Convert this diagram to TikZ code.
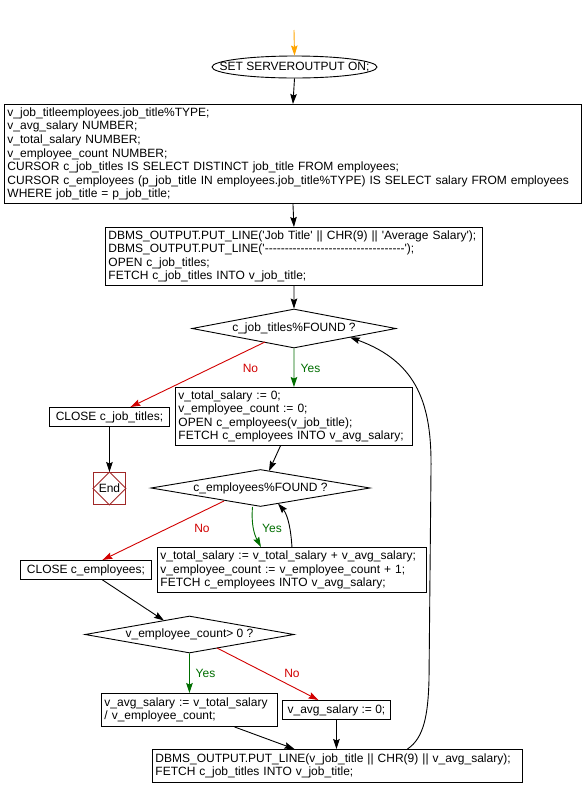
\documentclass[tikz,border=0pt]{standalone}
\usepackage{fontspec}
\setmainfont{Liberation Sans}[Ligatures=TeXOff]
\usetikzlibrary{arrows.meta,shapes.geometric,calc}
\definecolor{ygreen}{RGB}{0,110,0}
\definecolor{nred}{RGB}{210,0,0}
\definecolor{endred}{RGB}{160,40,40}
\definecolor{startor}{RGB}{255,165,0}
\begin{document}
\begin{tikzpicture}[x=1pt,y=-1pt,
  every node/.style={font=\fontsize{12pt}{13.6pt}\selectfont},
  line width=0.9pt,
  >={Stealth[length=10pt,width=6.5pt,inset=1.5pt]},
  conn/.style={->,draw=black},
  yesline/.style={->,draw=ygreen},
  noline/.style={->,draw=nred},
  cb/.style n args={2}{draw,anchor=north west,inner xsep=3pt,inner ysep=0pt,
    text width=#1,minimum height=#2,align=left},
  sb/.style n args={2}{draw,anchor=north west,inner sep=0pt,
    minimum width=#1,minimum height=#2},
  dia/.style n args={2}{draw,diamond,aspect=1,inner sep=0pt,
    minimum width=#1,minimum height=#2},
  yeslab/.style={text=ygreen,inner sep=0pt},
  nolab/.style={text=nred,inner sep=0pt}
]
\fill[white] (0,0) rectangle (585,796);
\useasboundingbox (0,0) rectangle (585,796);

% start
\coordinate (top) at (294,30);
\node[draw,ellipse,inner sep=0pt,minimum width=165pt,minimum height=22pt] (start) at (294.5,67)
  {\makebox[0pt]{SET SERVEROUTPUT ON;}};

% boxes
\node[cb={571pt}{99pt}] (b1) at (4,104) {v\_job\_titleemployees.job\_title\%TYPE;\\
v\_avg\_salary NUMBER;\\
v\_total\_salary NUMBER;\\
v\_employee\_count NUMBER;\\
CURSOR c\_job\_titles IS SELECT DISTINCT job\_title FROM employees;\\
CURSOR c\_employees (p\_job\_title IN employees.job\_title\%TYPE) IS SELECT salary FROM employees\\
WHERE job\_title = p\_job\_title;};

\node[cb={371pt}{58pt}] (b2) at (105,227) {DBMS\_OUTPUT.PUT\_LINE('Job Title' || CHR(9) || 'Average Salary');\\
DBMS\_OUTPUT.PUT\_LINE('-----------------------------------');\\
OPEN c\_job\_titles;\\
FETCH c\_job\_titles INTO v\_job\_title;};

\node[dia={204pt}{39pt}] (d1) at (294,328.5) {\makebox[0pt]{c\_job\_titles\%FOUND ?}};

\node[cb={231pt}{58pt}] (b3) at (175,387) {v\_total\_salary := 0;\\
v\_employee\_count := 0;\\
OPEN c\_employees(v\_job\_title);\\
FETCH c\_employees INTO v\_avg\_salary;};

\node[sb={120pt}{19pt}] (c1) at (49,407) {CLOSE c\_job\_titles;};

\node[draw=endred,anchor=north west,inner sep=0pt,minimum size=32pt] (end) at (93,472) {\makebox[0pt]{End}};
\draw[endred] (end.north) -- (end.east) -- (end.south) -- (end.west) -- cycle;

\node[dia={219pt}{37pt}] (d2) at (260.5,488) {\makebox[0pt]{c\_employees\%FOUND ?}};

\node[cb={263pt}{45pt}] (b4) at (157,547) {v\_total\_salary := v\_total\_salary + v\_avg\_salary;\\
v\_employee\_count := v\_employee\_count + 1;\\
FETCH c\_employees INTO v\_avg\_salary;};

\node[sb={131pt}{19pt}] (c2) at (20,560) {CLOSE c\_employees;};

\node[dia={209pt}{37pt}] (d3) at (189.5,634.5) {\makebox[0pt]{v\_employee\_count> 0 ?}};

\node[cb={170pt}{33pt}] (b5) at (101,693) {v\_avg\_salary := v\_total\_salary\\
/ v\_employee\_count;};

\node[sb={108pt}{19pt}] (b6) at (282,700) {v\_avg\_salary := 0;};

\node[cb={364pt}{33pt}] (b7) at (152,749) {DBMS\_OUTPUT.PUT\_LINE(v\_job\_title || CHR(9) || v\_avg\_salary);\\
FETCH c\_job\_titles INTO v\_job\_title;};

% labels
\node[yeslab] (y1) at (310.5,368) {Yes};
\node[nolab] (n1) at (250.5,368) {No};
\node[yeslab] (y2) at (272,528) {Yes};
\node[nolab] (n2) at (202,528) {No};
\node[yeslab] (y3) at (205.5,673) {Yes};
\node[nolab] (n3) at (292,673) {No};

% connectors
\draw[->,draw=startor,color=startor] (top) -- (start.north);
\draw[conn] (start.south) -- (b1.north);
\draw[conn] (b1.south) -- (b2.north);
\draw[conn] (b2.south) -- (d1.north);
\draw[yesline] (d1.south) -- (b3.north);
\draw[noline] ($(d1.center)+(-29,13.5)$) -- ($(c1.north)+(21,0)$);
\draw[conn] (c1.south) -- (end.north);
\draw[conn] ($(b3.south)+(-13.5,0)$) -- ($(d2.center)+(8.5,-17)$);
\draw[noline] ($(d2.center)+(-36.5,13)$) -- ($(c2.north)+(16.5,0)$);
\draw[yesline] ($(d2.south)+(-8,0)$) .. controls ($(d2.south)+(-9.5,18)$) and ($(d2.south)+(-6,28)$) .. ($(b4.north)+(-31,0)$);
\draw[conn] (b4.north) .. controls ($(b4.north)+(-1,-17)$) and ($(b4.north)+(-4,-32)$) .. ($(d2.center)+(17.5,15.5)$);
\draw[conn] ($(c2.south)+(16.5,0)$) -- ($(d3.center)+(-25.5,-14)$);
\draw[yesline] (d3.south) -- (b5.north);
\draw[noline] ($(d3.center)+(27.5,13.5)$) -- ($(b6.north)+(-18,0)$);
\draw[conn] ($(b5.south)+(45,0)$) -- ($(b7.north)+(-43,0)$);
\draw[conn] (b6.south) -- (b6.south |- b7.north);
\coordinate (lp1) at (429,680);
\coordinate (lp2) at (431,470);
\draw[conn] ($(b7.north)+(70,0)$) .. controls (424,738) and (428,715) .. (lp1) -- (lp2)
  .. controls (432,405) and (418,362) .. ($(d1.center)+(56,8.8)$);
\end{tikzpicture}
\end{document}
